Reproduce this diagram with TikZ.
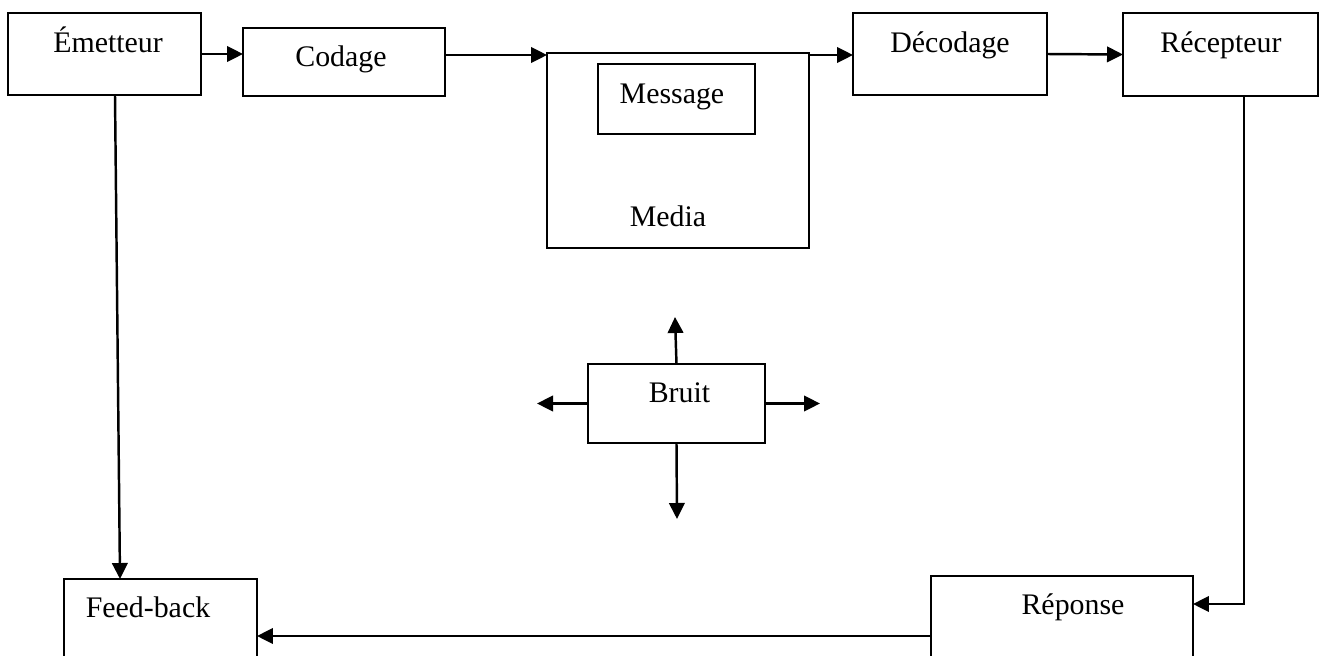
\documentclass[tikz,border=0pt]{standalone}
\usepackage{fontspec}
\setmainfont{Liberation Serif}
\usetikzlibrary{arrows.meta}
\begin{document}
\begin{tikzpicture}[x=0.02cm, y=-0.02cm,
  box/.style={draw, line width=1.1pt, inner sep=0pt, outer sep=0pt},
  lbl/.style={anchor=base, inner sep=0pt, font=\fontsize{17}{20}\selectfont},
  arr/.style={line width=1.4pt, -{Triangle[length=0.32cm,width=0.31cm]}}]
\clip (0,0) rectangle (1320,656);

% boxes
\node[box, minimum width=3.86cm, minimum height=1.64cm] (em) at (104.5,54) {};
\node[box, minimum width=4.04cm, minimum height=1.36cm] (co) at (344,62) {};
\node[box, minimum width=5.24cm, minimum height=3.90cm] (me) at (678,150.5) {};
\node[box, minimum width=3.14cm, minimum height=1.40cm] (ms) at (676.5,99) {};
\node[box, minimum width=3.88cm, minimum height=1.64cm] (de) at (950,54) {};
\node[box, minimum width=3.90cm, minimum height=1.66cm] (re) at (1220.5,54.5) {};
\node[box, minimum width=3.54cm, minimum height=1.58cm] (br) at (676.5,403.5) {};
\node[box, minimum width=3.86cm, minimum height=2.42cm] (fb) at (160.5,639.5) {};
\node[box, minimum width=5.24cm, minimum height=2.48cm] (rp) at (1062,638) {};

% labels
\node[lbl] (em-t) at (108,52) {Émetteur};
\node[lbl] (co-t) at (341,66) {Codage};
\node[lbl] (ms-t) at (672,103) {Message};
\node[lbl] (me-t) at (668,226) {Media};
\node[lbl] (de-t) at (950,52) {Décodage};
\node[lbl] (re-t) at (1221,52) {Récepteur};
\node[lbl] (br-t) at (679.5,402) {Bruit};
\node[lbl] (fb-t) at (148,617) {Feed-back};
\node[lbl] (rp-t) at (1073,614) {Réponse};

% reference points
\coordinate (row) at (0,55);
\coordinate (back) at ([yshift=-1.2cm]rp.north west);
\coordinate (nU) at (675,317);
\coordinate (nL) at (537,403.5);
\coordinate (nR) at (820,403.5);
\coordinate (nD) at (677,519);

% main chain
\draw[arr] (em.east) -- (co.west |- em.east);
\draw[arr] (co.east |- row) -- (me.west |- row);
\draw[arr] (me.east |- row) -- (de.west |- row);
\draw[arr] (de.east) -- (re.west);

% return path
\draw[arr] ([xshift=0.47cm]re.south) |- ([yshift=-0.56cm]rp.north east);
\draw[arr] (back) -- (fb.east |- back);
\draw[arr] ([xshift=0.21cm]em.south) -- ([xshift=-0.81cm]fb.north);

% noise
\draw[arr] (br.north) -- (nU);
\draw[arr] (br.west) -- (nL);
\draw[arr] (br.east) -- (nR);
\draw[arr] (br.south) -- (nD);
\end{tikzpicture}
\end{document}
